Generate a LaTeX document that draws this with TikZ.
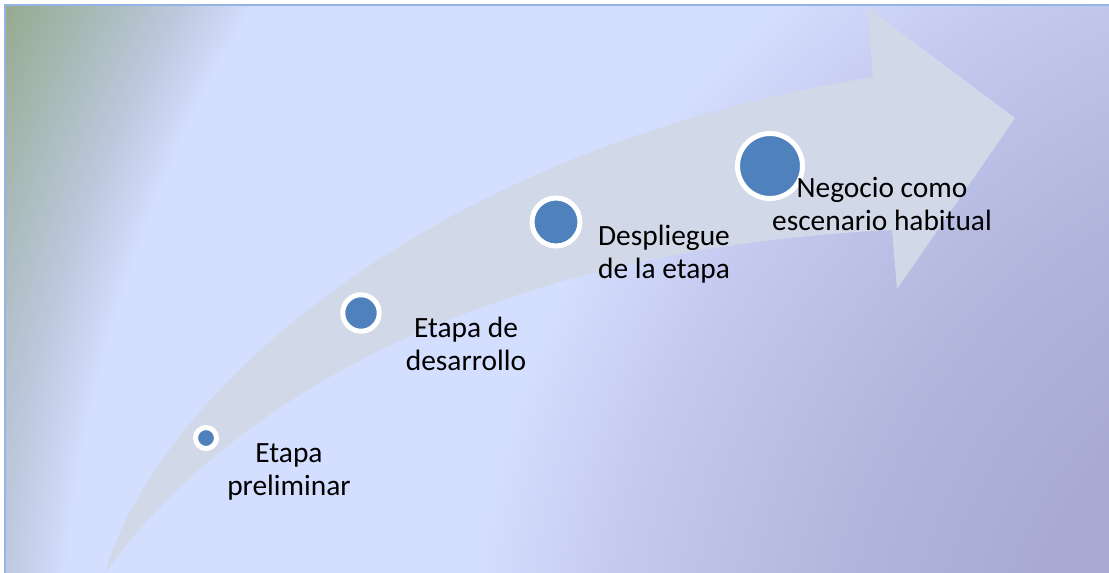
\documentclass[tikz,border=0pt]{standalone}
\usepackage{fontspec}
\setmainfont{Carlito}
\usepackage{tikz}

\definecolor{dotblue}{RGB}{79,129,189}
\definecolor{bandgray}{RGB}{209,216,231}
\definecolor{edgeblue}{RGB}{147,180,228}
\definecolor{bgdeep}{RGB}{168,170,212}
\definecolor{bgmid}{RGB}{178,183,222}
\definecolor{bgtop}{RGB}{195,200,238}
\definecolor{bglight}{RGB}{212,222,254}
\definecolor{bggray}{RGB}{190,200,222}
\definecolor{bgsage}{RGB}{175,190,196}
\definecolor{bgolive}{RGB}{150,170,142}
\pgfdeclareradialshading{bgglow}{\pgfpointorigin}{color(0bp)=(bgdeep); color(191bp)=(bgdeep); color(292bp)=(bgmid); color(389bp)=(bgtop); color(466bp)=(bglight); color(667bp)=(bglight); color(698bp)=(bggray); color(723bp)=(bgsage); color(776bp)=(bgolive)}

\begin{document}
\begin{tikzpicture}[x=0.5pt, y=-0.5pt, stagedot/.style={circle, draw=white, line width=2.5pt, fill=dotblue, inner sep=0pt}, stagetext/.style={align=center, anchor=base, inner sep=0pt, font=\fontsize{14.7}{16.25}\selectfont}, band/.style={fill=bandgray}, edgeline/.style={draw=edgeblue, line width=0.75pt}]
    \useasboundingbox (0,0) rectangle (1109,573);
    
    %Background
    \fill[white] (0,0) rectangle (1109,573);
    \begin{scope}
        \clip (5,5) rectangle (1109,573);
        \pgftext[at=\pgfpoint{700pt}{-350pt}]{\pgfuseshading{bgglow}}
    \end{scope}
    \draw[edgeline] (5,573) -- (5,5) -- (1109,5);
    
    %Arrow
    \fill[band] (105,573) .. controls (225,405) and (480,250) .. (892,230) -- (897,289) -- (1015,118) -- (867,7) -- (873,77) .. controls (420,150) and (155,400) .. (105,573) -- cycle;
    
    %Nodes
    \node[stagedot, minimum size=10.5pt](prelim_dot) at (206,438) {};
    \node[stagedot, minimum size=18.25pt](desarrollo_dot) at (361,313) {};
    \node[stagedot, minimum size=24pt](despliegue_dot) at (556,222) {};
    \node[stagedot, minimum size=32.5pt](negocio_dot) at (770,166) {};
    
    \node[stagetext](prelim_text) at (289,495) {Etapa\\preliminar};
    \node[stagetext](desarrollo_text) at (466,370) {Etapa de\\desarrollo};
    \node[stagetext](despliegue_text) at (664,278) {Despliegue\\de la etapa};
    \node[stagetext](negocio_text) at (882,230) {Negocio como\\escenario habitual};
    
\end{tikzpicture}
\end{document}
